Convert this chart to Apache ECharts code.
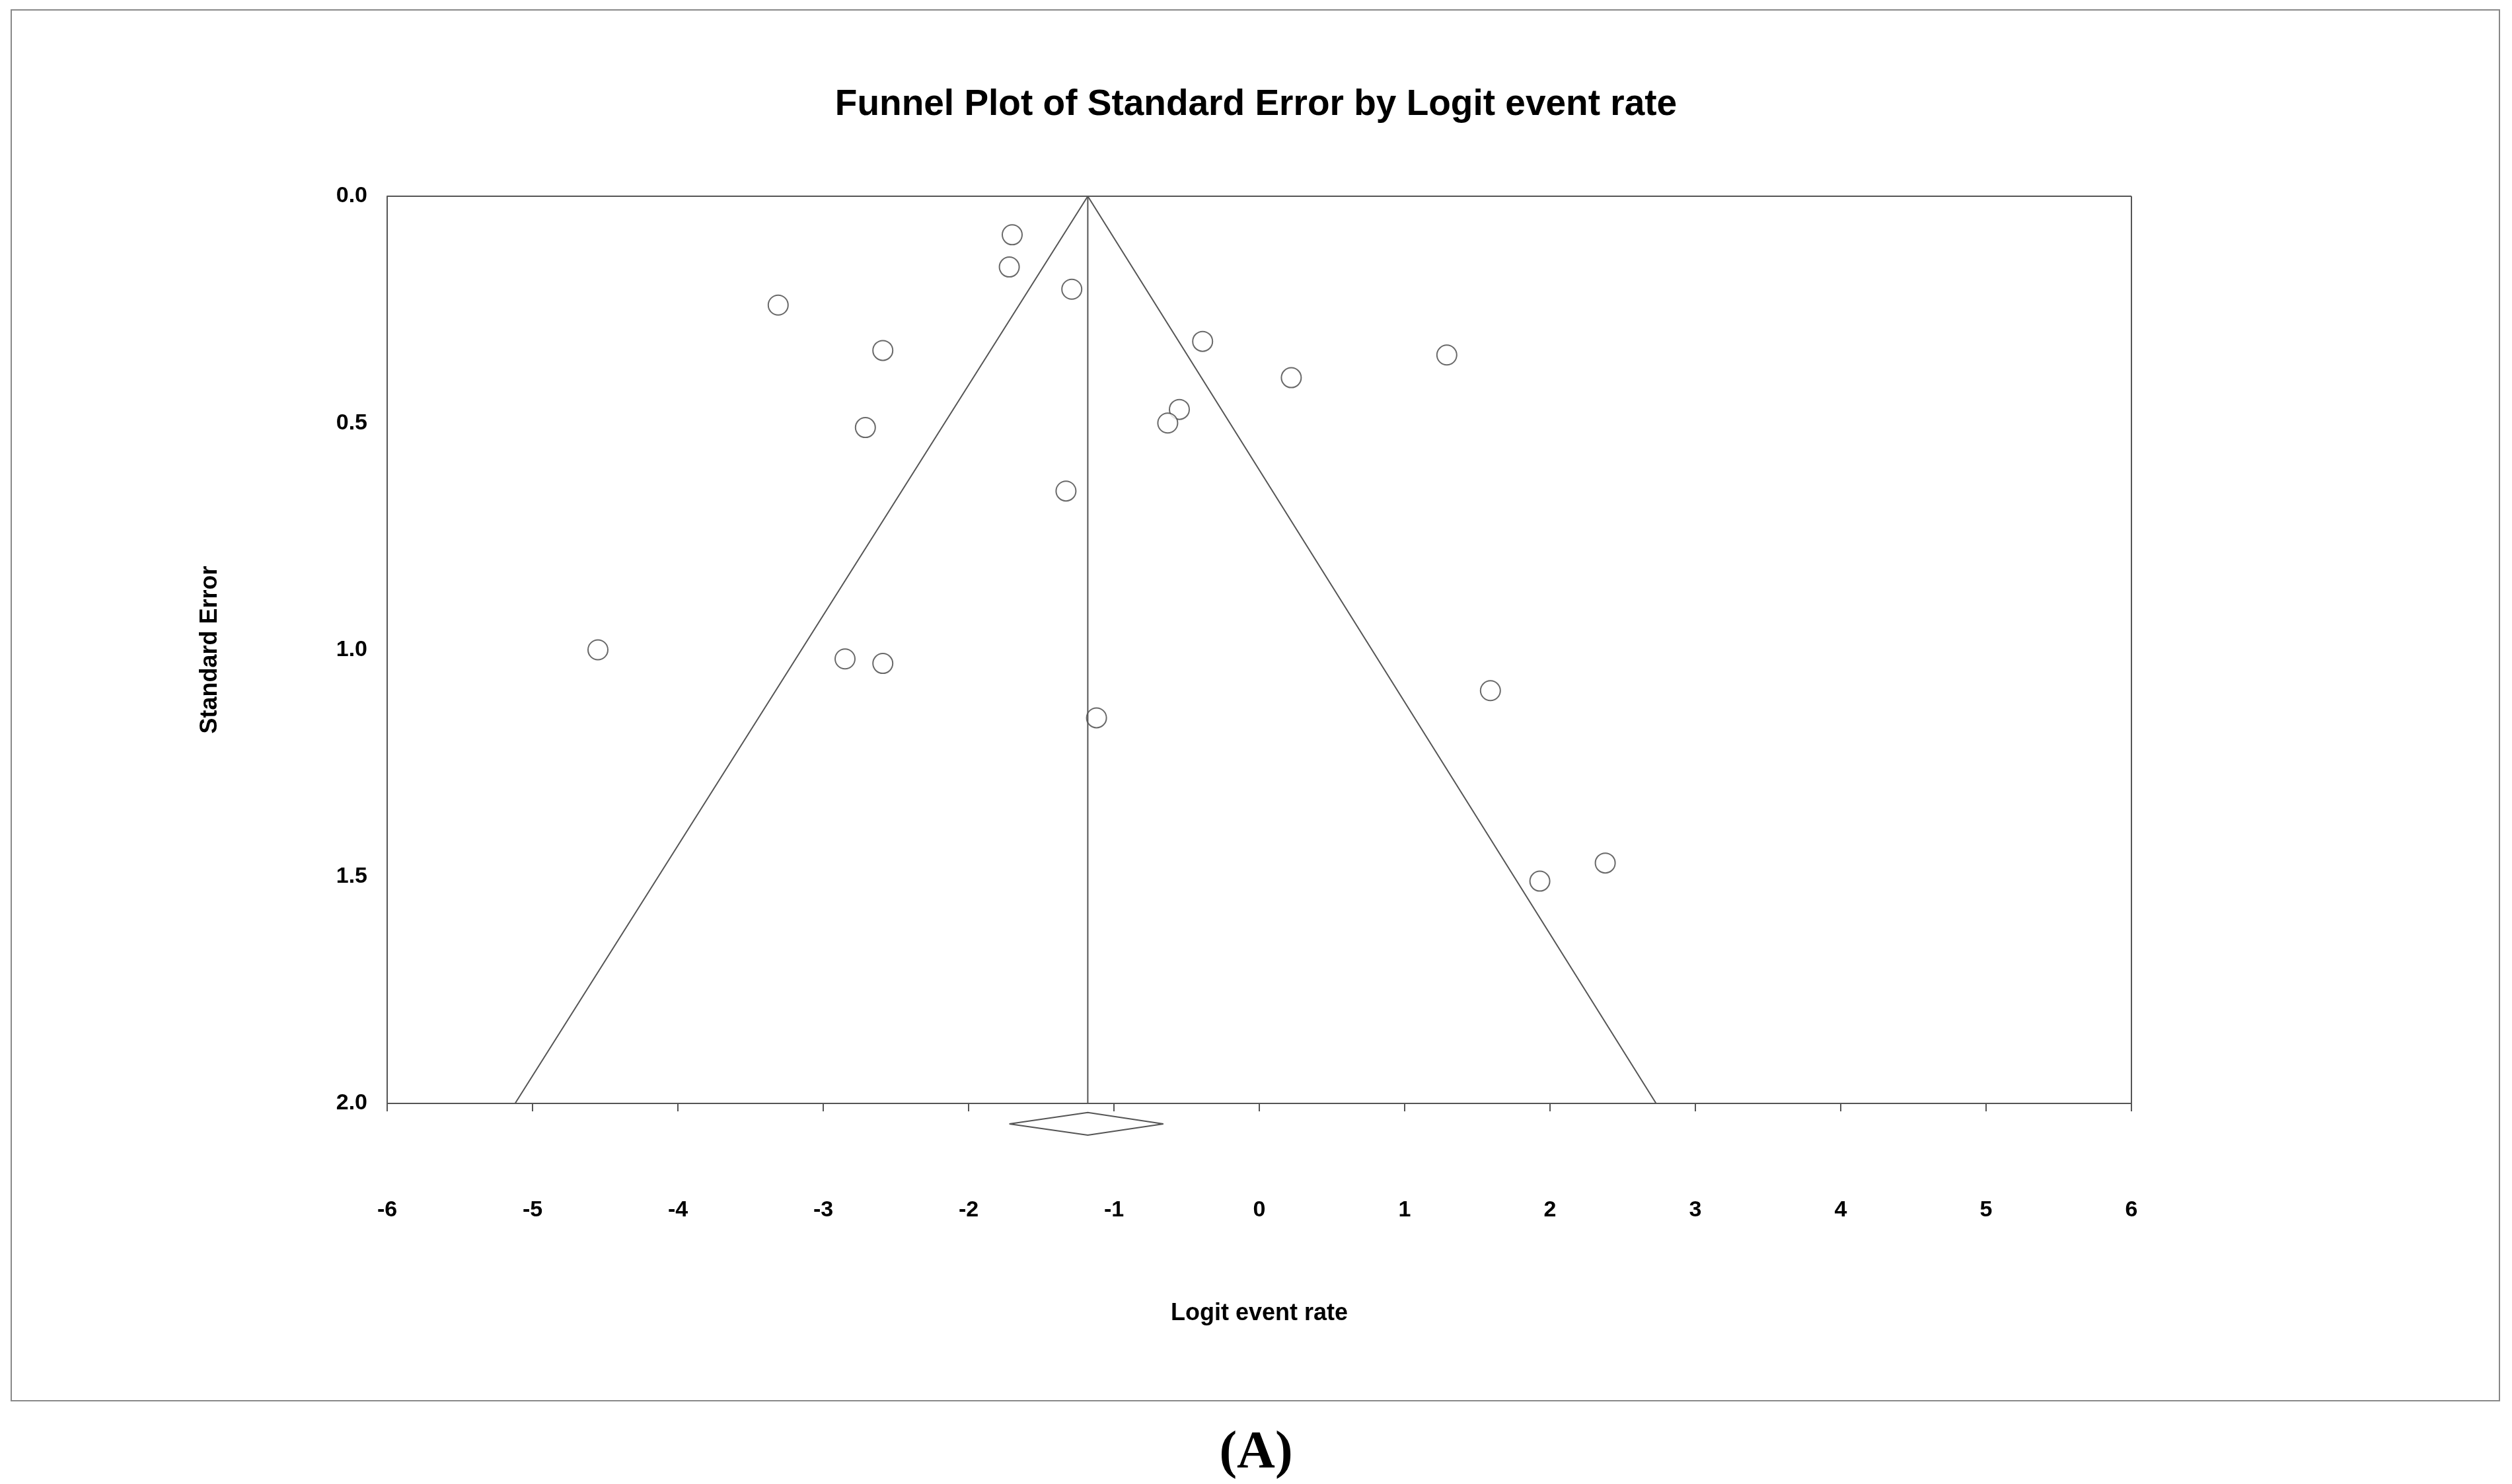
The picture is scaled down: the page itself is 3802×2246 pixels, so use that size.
<!DOCTYPE html>
<html><head><meta charset="utf-8">
<script src="https://cdn.jsdelivr.net/npm/echarts@6/dist/echarts.min.js"></script>
<style>html,body{margin:0;padding:0;background:#fff}#c{width:3802px;height:2246px}</style>
</head><body><div id="c"></div>
<script>
const logitRate = [-1.70,-1.72,-1.29,-3.31,-2.59,-0.39,0.22,1.29,-0.55,-0.63,-2.71,-1.33,-4.55,-2.85,-2.59,-1.12,1.59,1.93,2.38];
const stdError  = [0.085,0.156,0.205,0.24,0.34,0.32,0.40,0.35,0.47,0.50,0.51,0.65,1.00,1.02,1.03,1.15,1.09,1.51,1.47];
const pooled = -1.18;
const funnelLeft = [[-5.12,2.0],[-1.18,0],[2.73,2.0]];
const centerLine = [[-1.18,0],[-1.18,2.0]];
const diamond = [[-1.72,2.045],[-1.18,2.02],[-0.66,2.045],[-1.18,2.07],[-1.72,2.045]];
const xTicks = [-6,-5,-4,-3,-2,-1,0,1,2,3,4,5,6];
const yTicks = [0.0,0.5,1.0,1.5,2.0];

const pts = logitRate.map((x,i)=>[x,stdError[i]]);
const chart = echarts.init(document.getElementById('c'));
const lineStyle = {color:'#555',width:2};
chart.setOption({
  animation:false,
  backgroundColor:'#fff',
  title:{text:'Funnel Plot of Standard Error by Logit event rate',left:'center',top:126,
    textStyle:{fontFamily:'Liberation Sans, Arial',fontSize:55,fontWeight:'bold',color:'#000'}},
  graphic:[
    {type:'rect',shape:{x:17,y:15,width:3766,height:2105},style:{fill:'none',stroke:'#888',lineWidth:2}},
    {type:'text',left:'center',top:2160,style:{text:'(A)',font:'bold 80px "Liberation Serif", "Times New Roman", serif',fill:'#000'}}
  ],
  grid:{left:586,right:576,top:297,bottom:576},
  xAxis:{type:'value',min:-6,max:6,interval:1,position:'bottom',
    name:'Logit event rate',nameLocation:'middle',nameGap:300,
    nameTextStyle:{fontFamily:'Liberation Sans, Arial',fontSize:36,fontWeight:'bold',color:'#000'},
    axisLine:{show:true,onZero:false,lineStyle:{color:'#555',width:2}},
    axisTick:{show:true,length:12,lineStyle:{color:'#555',width:2}},
    axisLabel:{margin:145,fontFamily:'Liberation Sans, Arial',fontSize:34,fontWeight:'bold',color:'#000'},
    splitLine:{show:false}},
  yAxis:{type:'value',inverse:true,min:0,max:2,interval:0.5,position:'left',
    name:'Standard Error',nameLocation:'middle',nameGap:250,nameRotate:90,
    nameTextStyle:{fontFamily:'Liberation Sans, Arial',fontSize:36,fontWeight:'bold',color:'#000'},
    axisLine:{show:true,onZero:false,lineStyle:{color:'#555',width:2}},
    axisTick:{show:false},
    axisLabel:{margin:30,formatter:v=>v.toFixed(1),fontFamily:'Liberation Sans, Arial',fontSize:34,fontWeight:'bold',color:'#000'},
    splitLine:{show:false}},
  series:[
    {type:'line',data:funnelLeft,symbol:'none',lineStyle,silent:true},
    {type:'line',data:centerLine,symbol:'none',lineStyle,silent:true},
    {type:'line',data:diamond,symbol:'none',lineStyle,clip:false,silent:true},
    {type:'line',data:[[6,0],[6,2]],symbol:'none',lineStyle,silent:true},
    {type:'line',data:[[-6,0],[6,0]],symbol:'none',lineStyle,silent:true},
    {type:'scatter',data:pts,symbol:'circle',symbolSize:30,
      itemStyle:{color:'#fff',borderColor:'#444',borderWidth:2}}
  ]
});
</script></body></html>
